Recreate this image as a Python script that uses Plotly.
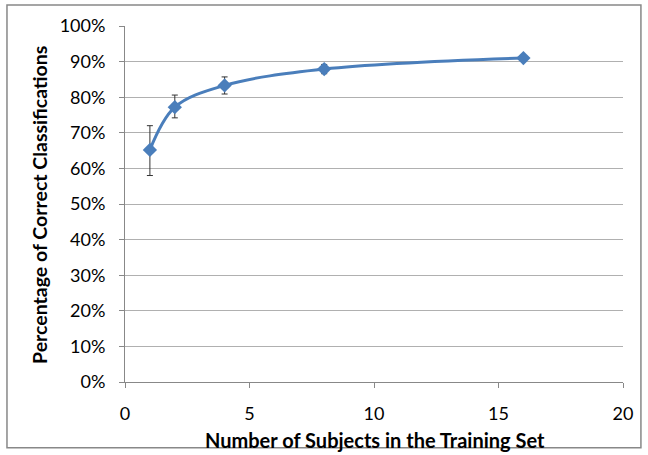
import plotly.graph_objects as go

subjects = [1, 2, 4, 8, 16]
accuracy = [0.652, 0.772, 0.833, 0.879, 0.910]
err_plus = [0.068, 0.034, 0.024, 0.013, 0.005]
err_minus = [0.072, 0.030, 0.024, 0.013, 0.005]
y_ticks = [i / 10 for i in range(11)]
x_ticks = [0, 5, 10, 15, 20]

fig = go.Figure()
fig.add_trace(go.Scatter(
    x=subjects, y=accuracy, mode="lines+markers",
    line=dict(color="#4a7ebb", width=3, shape="spline", smoothing=1.0),
    marker=dict(symbol="diamond", size=11, color="#4a7ebb"),
    error_y=dict(type="data", symmetric=False, array=err_plus, arrayminus=err_minus,
                 color="#333333", thickness=1, width=3),
    showlegend=False,
))

font = "Lato, 'Open Sans', sans-serif"
fig.update_layout(
    width=648, height=455,
    margin=dict(l=125, r=25, t=26, b=73),
    paper_bgcolor="white", plot_bgcolor="white",
    font=dict(family=font, size=18, color="#000"),
    xaxis=dict(range=[0, 20], tickvals=x_ticks, showgrid=False, showline=True,
               linecolor="#888", linewidth=1, ticks="outside", ticklen=5, tickcolor="#888",
               zeroline=False, automargin=False, ticklabelstandoff=10),
    yaxis=dict(range=[0, 1.0], tickvals=y_ticks, tickformat=".0%", showgrid=True,
               gridcolor="#b0b0b0", gridwidth=1, showline=True, linecolor="#888",
               ticks="outside", ticklen=5, tickcolor="#888", zeroline=False,
               automargin=False, ticklabelstandoff=10),
    annotations=[
        dict(text="<b>Number of Subjects in the Training Set</b>", xref="paper", yref="paper",
             x=0.502, y=-0.163, showarrow=False, font=dict(size=20), xanchor="center", yanchor="middle"),
        dict(text="<b>Percentage of Correct Classifications</b>", xref="paper", yref="paper",
             x=-0.173, y=0.497, showarrow=False, textangle=-90, font=dict(size=19.5),
             xanchor="center", yanchor="middle"),
    ],
    shapes=[dict(type="rect", xref="paper", yref="paper", x0=-0.237, x1=1.036, y0=-0.185, y1=1.059,
                 line=dict(color="#888", width=1.5), fillcolor="rgba(0,0,0,0)", layer="below")],
)

fig.write_html("out.html", config={"displayModeBar": False},
               post_script="document.body.style.margin='0';document.body.style.overflow='hidden';")
